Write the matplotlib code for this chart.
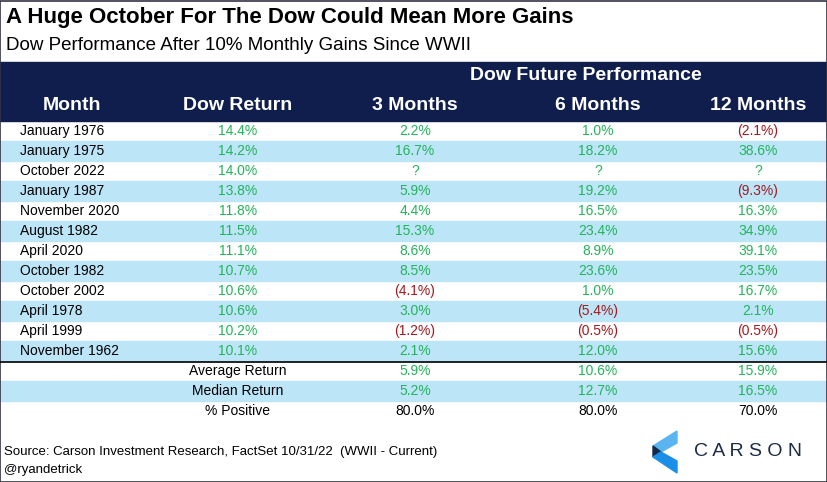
import matplotlib.pyplot as plt
from matplotlib.patches import Rectangle, Polygon

plt.rcParams['font.family'] = ['Liberation Sans', 'DejaVu Sans']

months = ['January 1976', 'January 1975', 'October 2022', 'January 1987', 'November 2020',
          'August 1982', 'April 2020', 'October 1982', 'October 2002', 'April 1978',
          'April 1999', 'November 1962']
dow_return = ['14.4%', '14.2%', '14.0%', '13.8%', '11.8%', '11.5%', '11.1%', '10.7%',
              '10.6%', '10.6%', '10.2%', '10.1%']
m3 = ['2.2%', '16.7%', '?', '5.9%', '4.4%', '15.3%', '8.6%', '8.5%', '(4.1%)', '3.0%', '(1.2%)', '2.1%']
m6 = ['1.0%', '18.2%', '?', '19.2%', '16.5%', '23.4%', '8.9%', '23.6%', '1.0%', '(5.4%)', '(0.5%)', '12.0%']
m12 = ['(2.1%)', '38.6%', '?', '(9.3%)', '16.3%', '34.9%', '39.1%', '23.5%', '16.7%', '2.1%', '(0.5%)', '15.6%']
summary_labels = ['Average Return', 'Median Return', '% Positive']
summary_3m = ['5.9%', '5.2%', '80.0%']
summary_6m = ['10.6%', '12.7%', '80.0%']
summary_12m = ['15.9%', '16.5%', '70.0%']

NAVY = '#101e4e'
STRIPE = '#bde5f8'
GREEN = '#22b45a'
RED = '#a3191e'

fig = plt.figure(figsize=(8.28, 4.82), dpi=100)
ax = fig.add_axes([0, 0, 1, 1])
ax.set_xlim(0, 828)
ax.set_ylim(482, 0)
ax.axis('off')

ax.text(6, 18, 'A Huge October For The Dow Could Mean More Gains', fontsize=16,
        fontweight='bold', va='center', color='black')
ax.text(6, 45, 'Dow Performance After 10% Monthly Gains Since WWII', fontsize=13.5,
        va='center', color='black')

# header
ax.add_patch(Rectangle((0, 62), 828, 59, color=NAVY, zorder=1))
ax.text(586, 76, 'Dow Future Performance', fontsize=14, fontweight='bold',
        color='white', ha='center', va='center', zorder=2)
col_x = [72, 238, 415, 598, 758]
for x, h in zip(col_x, ['Month', 'Dow Return', '3 Months', '6 Months', '12 Months']):
    ax.text(x, 106, h, fontsize=14, fontweight='bold', color='white',
            ha='center', va='center', zorder=2)

def val_color(s):
    if s.startswith('('):
        return RED
    return GREEN

row_h = 20
y0 = 131
for i in range(len(months)):
    y = y0 + i * row_h
    if i % 2 == 1:
        ax.add_patch(Rectangle((0, y - row_h / 2), 828, row_h, color=STRIPE, zorder=0))
    ax.text(20, y, months[i], fontsize=10, va='center')
    for x, s in zip(col_x[1:], [dow_return[i], m3[i], m6[i], m12[i]]):
        ax.text(x, y, s, fontsize=10, va='center', ha='center', color=val_color(s))

line_y = y0 + len(months) * row_h - row_h / 2 + 1
ax.plot([0, 828], [line_y, line_y], color='black', lw=1.2)

for j in range(3):
    y = 371 + j * row_h
    if j == 1:
        ax.add_patch(Rectangle((0, y - row_h / 2), 828, row_h, color=STRIPE, zorder=0))
    ax.text(238, y, summary_labels[j], fontsize=10, va='center', ha='center')
    c = GREEN if j < 2 else 'black'
    for x, s in zip(col_x[2:], [summary_3m[j], summary_6m[j], summary_12m[j]]):
        ax.text(x, y, s, fontsize=10, va='center', ha='center', color=c)

ax.text(4, 452, 'Source: Carson Investment Research, FactSet 10/31/22  (WWII - Current)',
        fontsize=9.5, va='center')
ax.text(4, 470, '@ryandetrick', fontsize=9.5, va='center')

# logo
ax.add_patch(Polygon([[653, 446], [677, 431], [677, 443], [661, 452]], color='#5ab4f0'))
ax.add_patch(Polygon([[653, 446], [661, 452], [653, 457]], color='#13294b'))
ax.add_patch(Polygon([[653, 457], [661, 452], [677, 461], [677, 473]], color='#1a8fe8'))
ax.text(694, 451, 'C A R S O N', fontsize=14, va='center', color='#1c2c44')

ax.add_patch(Rectangle((0.5, 0.5), 827, 481, fill=False, ec='#333344', lw=1.2))
fig.savefig('out.png', dpi=100)
